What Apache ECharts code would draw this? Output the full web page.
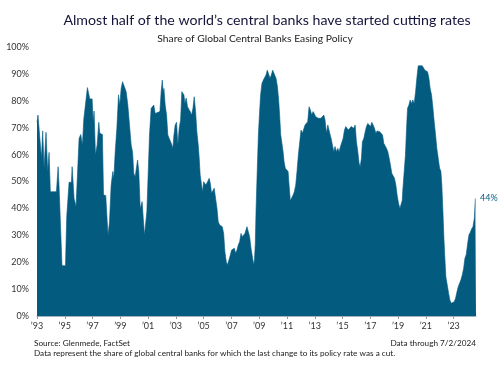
<!DOCTYPE html>
<html><head><meta charset="utf-8">
<script src="https://cdn.jsdelivr.net/npm/echarts@6/dist/echarts.min.js"></script>
<style>html,body{margin:0;padding:0;background:#fff;}#c{width:503px;height:388px;}</style>
</head><body><div id="c"></div>
<script>
const years = [
1993.00,1993.07,1993.17,1993.32,1993.41,1993.51,1993.65,1993.77,1993.87,1993.96,1994.40,1994.52,1994.59,1994.80,1995.05,1995.14,1995.31,1995.48,1995.53,1995.67,1995.81,1995.91,
1996.03,1996.15,1996.27,1996.37,1996.51,1996.63,1996.73,1996.80,1996.97,1997.04,1997.11,1997.21,1997.33,1997.45,1997.52,1997.71,1997.79,1997.95,1998.07,1998.12,1998.22,
1998.34,1998.46,1998.53,1998.63,1998.75,1998.87,1998.96,1999.06,1999.16,1999.30,1999.42,1999.54,1999.61,1999.68,1999.78,1999.88,1999.97,2000.07,2000.16,2000.24,2000.33,
2000.43,2000.50,2000.57,2000.65,2000.74,2000.81,2000.91,2001.01,2001.10,2001.22,2001.32,2001.41,2001.51,2001.61,2001.85,2001.94,2002.02,2002.09,2002.14,2002.23,2002.33,
2002.42,2002.52,2002.62,2002.71,2002.78,2002.86,2002.95,2003.05,2003.14,2003.24,2003.34,2003.43,2003.58,2003.65,2003.74,2003.84,2003.94,2004.03,2004.13,2004.23,2004.32,
2004.42,2004.51,2004.61,2004.68,2004.75,2004.85,2004.92,2005.00,2005.09,2005.16,2005.28,2005.40,2005.48,2005.57,2005.67,2005.76,2005.86,2005.96,2006.05,2006.15,2006.24,
2006.34,2006.44,2006.53,2006.63,2006.70,2006.80,2006.92,2007.01,2007.11,2007.21,2007.30,2007.40,2007.49,2007.59,2007.69,2007.78,2007.88,2007.97,2008.12,2008.22,2008.31,
2008.41,2008.53,2008.60,2008.66,2008.72,2008.77,2008.84,2008.94,2009.03,2009.10,2009.20,2009.30,2009.39,2009.49,2009.58,2009.71,2009.78,2009.87,2009.97,2010.11,2010.21,
2010.31,2010.40,2010.47,2010.55,2010.64,2010.72,2010.79,2010.88,2010.98,2011.08,2011.15,2011.24,2011.34,2011.44,2011.53,2011.63,2011.72,2011.82,2011.92,2012.01,2012.11,
2012.20,2012.30,2012.40,2012.49,2012.59,2012.69,2012.78,2012.88,2012.97,2013.07,2013.17,2013.26,2013.36,2013.45,2013.55,2013.65,2013.74,2013.84,2013.94,2014.03,2014.08,
2014.18,2014.27,2014.37,2014.46,2014.56,2014.66,2014.75,2014.85,2014.94,2015.04,2015.14,2015.23,2015.33,2015.42,2015.52,2015.62,2015.71,2015.81,2015.91,2016.00,2016.10,
2016.19,2016.27,2016.36,2016.43,2016.53,2016.63,2016.72,2016.82,2016.92,2017.01,2017.11,2017.20,2017.30,2017.40,2017.49,2017.59,2017.68,2017.78,2017.88,2017.97,2018.07,
2018.17,2018.26,2018.36,2018.45,2018.55,2018.65,2018.74,2018.84,2018.93,2019.03,2019.13,2019.22,2019.30,2019.34,2019.44,2019.53,2019.61,2019.68,2019.78,2019.87,2019.97,
2020.06,2020.16,2020.26,2020.35,2020.45,2020.59,2020.74,2020.83,2020.93,2021.02,2021.12,2021.22,2021.31,2021.41,2021.51,2021.60,2021.70,2021.79,2021.89,2021.99,2022.08,
2022.15,2022.23,2022.30,2022.37,2022.44,2022.54,2022.64,2022.73,2022.83,2022.95,2023.04,2023.14,2023.24,2023.33,2023.43,2023.52,2023.62,2023.72,2023.81,2023.91,2024.01,
2024.10,2024.20,2024.29,2024.39,2024.49,2024.56,2024.61
];
const easingShare = [
72,74.7,74.7,58.6,68.8,54.9,68.3,53.7,60.8,46.2,46.2,55.5,48,18.7,18.7,36.9,49.7,49.7,55.5,43.7,40.6,40.6,
66,67.5,63.6,73.2,73.7,84.9,84.6,80.7,80.7,72.2,76.2,59.9,63.6,72,67.9,67.5,45,44.8,33.8,30.1,35,
48.7,53.7,51,61,69.8,82.2,78.4,84.6,87.1,87.1,83.4,78.4,78.8,69.8,63.6,61,53,51.8,52.4,58,53.7,
40,41.2,42.5,36.3,30.1,29.5,38.8,53.7,67.3,77.2,77.8,78.4,75.3,76,76,83.4,87.7,82.8,84.6,78.4,74.7,
67.3,66,64.8,63.6,62.3,67.3,71,72,63.6,69.8,72.9,83.4,82.2,79,81,77.8,76.8,76,74.7,77.2,81.5,
76,68.5,63.6,58.6,52.4,48.7,46.2,49.9,49.9,48.7,49.9,51.2,49.3,45.6,45,47.5,43.7,40,35,33.8,34.4,
33.2,30.7,23.9,20.2,19,20.4,22.7,24.5,25.2,25.2,23.3,24.5,26.4,27.6,30.7,29.5,30.1,30.7,33.2,33.8,29.5,
25.2,21.4,19,21,27,38.8,51.2,67.3,76,82.2,86.5,87.7,88.4,89.6,91.4,91.4,88.4,89.6,91.4,91.4,88.4,
85.3,80.3,74.7,67.3,66.7,61.1,57.4,54.9,54.9,53.7,48.7,42.8,43.5,45,46.2,48.7,53.7,59.9,64.8,69.1,67.9,
67.3,71,71.6,72.2,77.8,76.5,74.7,76,75.3,74.1,74.7,73.5,73.2,73.5,72.9,74.7,72.9,67.9,71,70.4,67.9,
66,63.6,61.1,63,61.1,62.3,61.1,63,63.6,66,69.1,70.4,70.4,69.1,69.1,70.4,71,69.8,71,64.8,61.1,
56.8,55.5,58.6,64.8,66,68.5,70.4,71.6,71.6,70.4,72,71,69.8,67.9,68.8,68.8,68.5,68.5,67.3,64.2,63.6,
62.3,61.1,58.6,56.1,53,52.6,51.2,48.7,45,41.9,40,40,43,46.8,53.7,59.9,69.8,77.2,78.4,80.3,79,
80.3,79,83.4,88.4,93,93,93,92.6,91.4,91,90.8,88.4,84.6,82.2,77.2,72.2,67.3,62.3,58.6,54.9,53.9,
48.7,38.8,28.9,21.4,14.6,11.5,8.4,5.9,4.7,4.7,5.3,6.6,9,10.9,11.5,13.4,15.2,17.7,21.4,22.9,27,
30.1,31.1,32.3,33.2,36.3,43.7,43.7
];
const yTicks = [0,10,20,30,40,50,60,70,80,90,100];
const titleText = 'Almost half of the world\u2019s central banks have started cutting rates';
const subtitleText = 'Share of Global Central Banks Easing Policy';
const sourceText = 'Source: Glenmede, FactSet';
const noteText = 'Data represent the share of global central banks for which the last change to its policy rate was a cut.';
const throughText = 'Data through 7/2/2024';

const blue = '#035b80';
const font = 'Lato';
const chart = echarts.init(document.getElementById('c'), null, {renderer:'canvas'});
chart.setOption({
  animation: false,
  title: [
    {text: titleText, left: 262, top: 8, textAlign: 'center', textStyle: {fontFamily: font, fontSize: 14.2, fontWeight: 'normal', color: '#14143a'}},
    {text: subtitleText, left: 250, top: 28.5, textAlign: 'center', textStyle: {fontFamily: font, fontSize: 10.3, fontWeight: 'normal', color: '#222'}},
    {text: sourceText, left: 29, top: 334, textStyle: {fontFamily: font, fontSize: 8.2, fontWeight: 'normal', color: '#222'}},
    {text: noteText, left: 29, top: 344.5, textStyle: {fontFamily: font, fontSize: 8.2, fontWeight: 'normal', color: '#222'}},
    {text: throughText, right: 22, top: 334, textStyle: {fontFamily: font, fontSize: 8.2, fontWeight: 'normal', color: '#222'}}
  ],
  grid: {left: 37, right: 27, top: 47, bottom: 72},
  xAxis: {
    type: 'value', min: 1993, max: years[years.length-1], interval: 2,
    axisLine: {show: true, lineStyle: {color: '#9fb2c0', width: 1}},
    axisTick: {show: true, length: 3, lineStyle: {color: '#9a9a9a'}},
    splitLine: {show: false},
    axisLabel: {fontFamily: font, fontSize: 9, color: '#333', margin: 6, showMaxLabel: false,
      formatter: v => (Math.round(v) <= 2023) ? '\u2019' + String(Math.round(v) % 100).padStart(2,'0') : ''}
  },
  yAxis: {
    type: 'value', min: 0, max: 100, interval: 10,
    axisLine: {show: false}, axisTick: {show: false}, splitLine: {show: false},
    axisLabel: {fontFamily: font, fontSize: 9, color: '#333', margin: 8, formatter: v => v + '%'}
  },
  series: [{
    type: 'line',
    data: years.map((y, i) => [y, easingShare[i]]),
    symbol: 'none',
    lineStyle: {color: blue, width: 0.6},
    areaStyle: {color: blue, opacity: 1},
    endLabel: {show: true, formatter: p => Math.round(p.value[1]) + '%', color: blue, fontFamily: font, fontSize: 9, distance: 4}
  }]
});
</script></body></html>
